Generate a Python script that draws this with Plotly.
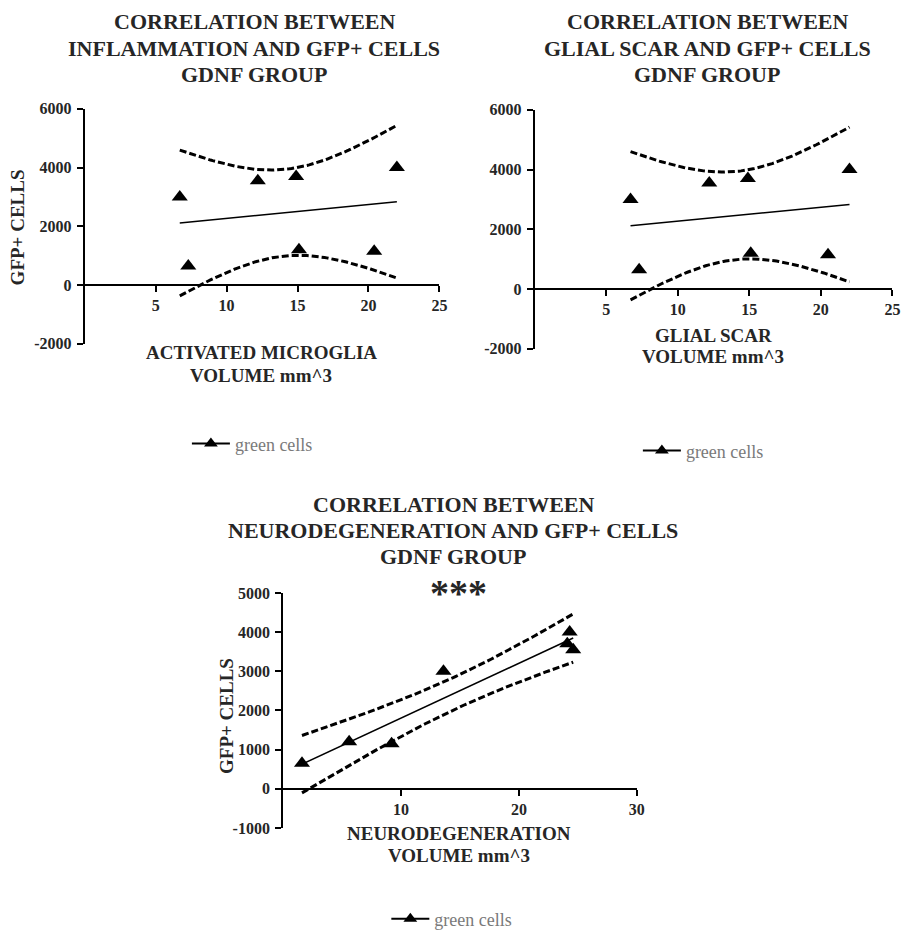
import numpy as np
import plotly.graph_objects as go

# GFP+ cell counts per animal (GDNF group)
gfp_cells = [3000, 650, 3550, 3700, 1200, 1150, 4000]
# Lesion volumes (mm^3) for the same animals
microglia_volume = [6.7, 7.3, 12.2, 14.9, 15.1, 20.4, 22.0]
glial_scar_volume = [6.7, 7.3, 12.2, 14.9, 15.1, 20.5, 22.0]
neurodegeneration_volume = [13.6, 1.6, 24.6, 24.1, 5.6, 9.2, 24.3]

top_yticks = [-2000, 0, 2000, 4000, 6000]
top_xticks = [5, 10, 15, 20, 25]
bottom_yticks = [-1000, 0, 1000, 2000, 3000, 4000, 5000]
bottom_xticks = [10, 20, 30]

T_975_DF5 = 2.571  # two-sided 95% t quantile, n - 2 = 5 degrees of freedom

W, H = 903, 938
SERIF = "Liberation Serif"
TEXT = "#262626"

# positions below are given on a grid that maps onto the page with this scale/offset
GRID_SX, GRID_OX = 0.989, 1.5
GRID_SY, GRID_OY = 0.971, 7.2


def px_x(p):
    return min(1.0, max(0.0, ((p - GRID_OX) / GRID_SX) / W))


def px_y(p):
    return min(1.0, max(0.0, 1 - ((p - GRID_OY) / GRID_SY) / H))


def fit_bands(x, y, n=100):
    """Least-squares line and 95% confidence band of the mean."""
    x = np.asarray(x, float)
    y = np.asarray(y, float)
    slope, intercept = np.polyfit(x, y, 1)
    xs = np.linspace(x.min(), x.max(), n)
    fit = intercept + slope * xs
    resid = y - (intercept + slope * x)
    s = np.sqrt(np.sum(resid ** 2) / (len(x) - 2))
    sxx = np.sum((x - x.mean()) ** 2)
    half = T_975_DF5 * s * np.sqrt(1 / len(x) + (xs - x.mean()) ** 2 / sxx)
    return xs, fit, fit - half, fit + half


panels = [
    dict(x=microglia_volume, xdom=(86, 440), ydom=(108, 343), xr=[0, 25], yr=[-2000, 6000],
         xt=top_xticks, yt=top_yticks, legend="legend"),
    dict(x=glial_scar_volume, xdom=(535, 892), ydom=(109, 348), xr=[0, 25], yr=[-2000, 6000],
         xt=top_xticks, yt=top_yticks, legend="legend2"),
    dict(x=neurodegeneration_volume, xdom=(284, 637), ydom=(592, 827), xr=[0, 30], yr=[-1000, 5000],
         xt=bottom_xticks, yt=bottom_yticks, legend="legend3"),
]

fig = go.Figure()
layout = {}

for i, p in enumerate(panels):
    sfx = "" if i == 0 else str(i + 1)
    xa, ya = "x" + sfx, "y" + sfx
    xs, fit, lo, hi = fit_bands(p["x"], gfp_cells)

    for band in (hi, lo):
        fig.add_trace(go.Scatter(x=xs, y=band, xaxis=xa, yaxis=ya, mode="lines",
                                 line=dict(color="black", width=3, dash="7px,3px"),
                                 showlegend=False, hoverinfo="skip"))
    fig.add_trace(go.Scatter(x=xs, y=fit, xaxis=xa, yaxis=ya, mode="lines",
                             line=dict(color="black", width=1.5),
                             showlegend=False, hoverinfo="skip"))
    fig.add_trace(go.Scatter(x=p["x"], y=gfp_cells, xaxis=xa, yaxis=ya, mode="markers",
                             marker=dict(symbol="triangle-up", size=14, color="black"),
                             showlegend=False, cliponaxis=False))
    # legend entry: line with triangle symbol
    fig.add_trace(go.Scatter(x=[None], y=[None], xaxis=xa, yaxis=ya, mode="lines+markers",
                             name="green cells", legend=p["legend"],
                             line=dict(color="black", width=2),
                             marker=dict(symbol="triangle-up", size=12, color="black")))

    y0, y1 = px_y(p["ydom"][1]), px_y(p["ydom"][0])
    zero_frac = (0 - p["yr"][0]) / (p["yr"][1] - p["yr"][0])
    axis_common = dict(showline=True, linecolor="black", linewidth=2, ticks="outside",
                       ticklen=6, tickwidth=2, tickcolor="black", showgrid=False,
                       zeroline=False, tickfont=dict(family=SERIF, size=16, color=TEXT,
                                                     weight="bold"))
    layout["xaxis" + sfx] = dict(domain=[px_x(p["xdom"][0]), px_x(p["xdom"][1])],
                                 range=p["xr"], anchor="free",
                                 position=y0 + zero_frac * (y1 - y0),
                                 tickvals=p["xt"], ticktext=[str(v) for v in p["xt"]],
                                 **axis_common)
    layout["yaxis" + sfx] = dict(domain=[y0, y1], range=p["yr"], anchor=xa,
                                 tickvals=p["yt"], ticktext=[str(v) for v in p["yt"]],
                                 ticklabelstandoff=2, **axis_common)

legend_style = dict(font=dict(family=SERIF, size=18, color="#7a7a7a"),
                    bgcolor="rgba(0,0,0,0)", xanchor="left", yanchor="middle",
                    itemwidth=38)
layout["legend"] = dict(x=px_x(188), y=px_y(443), **legend_style)
layout["legend2"] = dict(x=px_x(638), y=px_y(450), **legend_style)
layout["legend3"] = dict(x=px_x(387), y=px_y(927), **legend_style)


def label(text, x, y, size, angle=0):
    return dict(text=f"<b>{text}</b>", x=px_x(x), y=px_y(y), xref="paper", yref="paper",
                xanchor="center", yanchor="middle", showarrow=False, textangle=angle,
                font=dict(family=SERIF, size=size, color=TEXT))


annotations = []
titles = [
    (255, [21, 48, 74], ["CORRELATION BETWEEN", "INFLAMMATION AND GFP+ CELLS", "GDNF GROUP"]),
    (707, [21, 48, 74], ["CORRELATION BETWEEN", "GLIAL SCAR AND GFP+ CELLS", "GDNF GROUP"]),
    (454, [504, 530, 556], ["CORRELATION BETWEEN", "NEURODEGENERATION AND GFP+ CELLS", "GDNF GROUP"]),
]
for cx, ys, lines in titles:
    for yy, line in zip(ys, lines):
        annotations.append(label(line, cx, yy, 22))

axis_titles = [
    (262, 352, "ACTIVATED MICROGLIA"), (262, 375, "VOLUME mm^3"),
    (713, 335, "GLIAL SCAR"), (713, 356, "VOLUME mm^3"),
    (460, 833, "NEURODEGENERATION"), (460, 855, "VOLUME mm^3"),
]
for cx, cy, t in axis_titles:
    annotations.append(label(t, cx, cy, 19))

annotations.append(label("GFP+ CELLS", 19, 227, 19, angle=-90))
annotations.append(label("GFP+ CELLS", 228, 715, 19, angle=-90))
annotations.append(label("***", 459, 592, 38))

fig.update_layout(width=W, height=H, margin=dict(l=0, r=0, t=0, b=0),
                  paper_bgcolor="white", plot_bgcolor="white",
                  annotations=annotations, **layout)

fig.write_html("out.html")
